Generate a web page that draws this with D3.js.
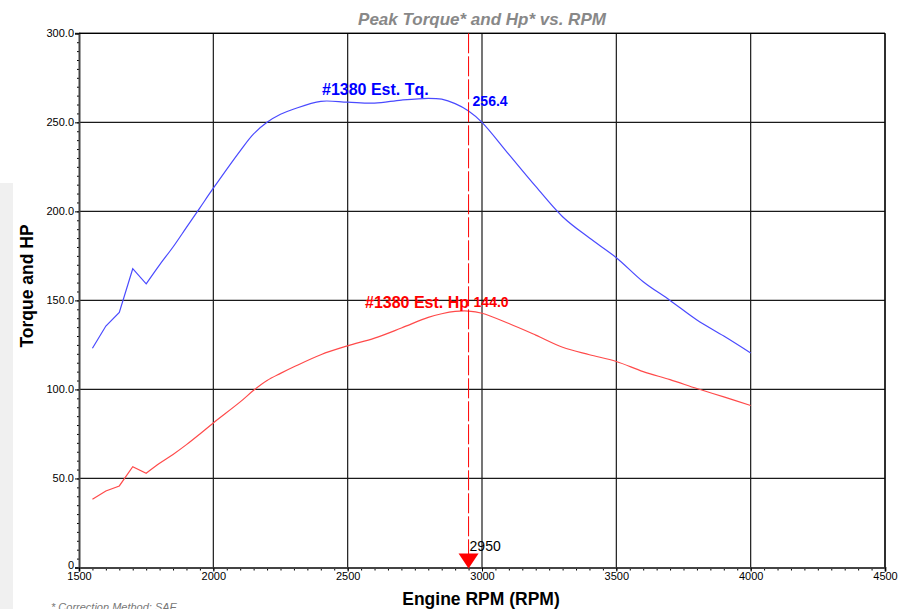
<!DOCTYPE html>
<html>
<head>
    <meta charset="utf-8">
    <script src="https://cdn.jsdelivr.net/npm/d3@7"></script>
    <style>
      body { margin: 0; background: #fff; }
      text { font-family: Arial, "Liberation Sans", sans-serif; }
    </style>
</head>
<body>
<script type="text/javascript">
"use strict";

// Dyno pull.
var rpm = [1550, 1600, 1650, 1700, 1750, 1800, 1850, 1900, 1950, 2000,
           2100, 2150, 2200, 2250, 2300, 2400, 2500, 2600, 2700, 2800, 2850,
           2900, 2950, 3000, 3100, 3200, 3300, 3400, 3500, 3600, 3700,
           3800, 3900, 4000];
var torque = [123.1, 135.6, 143.3, 167.8, 159.3, 170, 180, 191, 202, 213,
              234, 243.5, 250, 254.5, 257.5, 261.8, 261.3, 260.8, 262.5, 263.5, 263,
              260.5, 256.4, 250, 232, 214, 197, 185, 174, 160.5, 150,
              139, 130, 120.5];
var hp = [38.3, 43, 45.8, 56.6, 52.9, 58.5, 63.5, 69, 75, 81.2,
          93, 99.5, 105, 109, 112.7, 119.5, 124.5, 128.8, 134.5, 140.5, 142.5,
          143.8, 144.0, 142.8, 137, 130.5, 123.7, 119.5, 115.7, 110, 105.5,
          100.5, 95.8, 91];

var xTicks = [1500, 2000, 2500, 3000, 3500, 4000, 4500];
var yTicks = [0, 50, 100, 150, 200, 250, 300];
var peakRpm = 2950;
var peakTq = 256.4;
var peakHp = 144.0;

function draw() {
  var width = 899, height = 609;
  var pLeft = 79, pRight = 885, pTop = 33.3, pBottom = 567.5;

  var svg = d3.select("body").append("svg")
      .attr("width", width)
      .attr("height", height);

  // grey strip on the far left
  svg.append("rect")
      .attr("x", 0).attr("y", 183)
      .attr("width", 13).attr("height", height - 183)
      .attr("fill", "#f0f0f0");

  var x = d3.scaleLinear().domain([1500, 4500]).range([pLeft, pRight]);
  var y = d3.scaleLinear().domain([0, 300]).range([pBottom, pTop]);

  // grid
  svg.append("g").selectAll("line")
      .data(xTicks.slice(1))
      .enter().append("line")
      .attr("x1", d => x(d)).attr("x2", d => x(d))
      .attr("y1", pTop).attr("y2", pBottom)
      .attr("stroke", "#1a1a1a").attr("stroke-width", 1.2);
  svg.append("g").selectAll("line")
      .data(yTicks.slice(1))
      .enter().append("line")
      .attr("x1", pLeft).attr("x2", pRight)
      .attr("y1", d => y(d)).attr("y2", d => y(d))
      .attr("stroke", "#1a1a1a").attr("stroke-width", 1.2);

  // minor ticks
  svg.append("g")
      .attr("transform", "translate(" + pLeft + ",0)")
      .call(d3.axisLeft(y).tickValues(d3.range(0, 301, 5)).tickSize(2).tickFormat(""))
      .call(g => g.select(".domain").remove());
  svg.append("g")
      .attr("transform", "translate(0," + pBottom + ")")
      .call(d3.axisBottom(x).tickValues(d3.range(1500, 4501, 50)).tickSize(3).tickFormat(""))
      .call(g => g.select(".domain").remove());

  // major axes
  var yAxis = svg.append("g")
      .attr("transform", "translate(" + pLeft + ",0)")
      .call(d3.axisLeft(y).tickValues(yTicks).tickSize(4).tickPadding(1)
            .tickFormat(d => d === 0 ? "0" : d3.format(".1f")(d)));
  yAxis.select(".domain").attr("stroke", "#444").attr("stroke-width", 2);
  yAxis.selectAll("text").style("font-size", "11px").attr("fill", "#000")
      .attr("dy", d => d === 0 ? "0.1em" : "0.32em");

  var xAxis = svg.append("g")
      .attr("transform", "translate(0," + pBottom + ")")
      .call(d3.axisBottom(x).tickValues(xTicks).tickSize(4).tickPadding(1).tickFormat(d3.format("d")));
  xAxis.select(".domain").attr("stroke", "#444").attr("stroke-width", 2);
  xAxis.selectAll("text").style("font-size", "11px").attr("fill", "#000");

  // top and right border
  svg.append("line").attr("x1", pLeft).attr("x2", pRight).attr("y1", pTop).attr("y2", pTop)
      .attr("stroke", "#000").attr("stroke-width", 1.2);
  svg.append("line").attr("x1", pRight).attr("x2", pRight).attr("y1", pTop).attr("y2", pBottom)
      .attr("stroke", "#000").attr("stroke-width", 1.2);

  // curves: the low rpm part is jagged (straight segments), the rest smooth
  var straight = d3.line();
  var smooth = d3.line().curve(d3.curveCatmullRom.alpha(0.5));
  var split = rpm.indexOf(1750);
  function drawSeries(vals, color) {
    var pts = rpm.map((r, i) => [x(r), y(vals[i])]);
    svg.append("path")
        .attr("d", straight(pts.slice(0, split + 1)) + smooth(pts.slice(split)).replace(/^M/, "L"))
        .attr("fill", "none").attr("stroke", color).attr("stroke-width", 1.2);
  }
  drawSeries(torque, "#4a4aff");
  drawSeries(hp, "#ff4a4a");

  // peak marker
  svg.append("line")
      .attr("x1", x(peakRpm)).attr("x2", x(peakRpm))
      .attr("y1", pTop).attr("y2", pBottom - 10)
      .attr("stroke", "#ff0000").attr("stroke-width", 1)
      .attr("stroke-dasharray", "20,3");
  svg.append("path")
      .attr("d", "M" + (x(peakRpm) - 10) + "," + (pBottom - 14) + "L" + (x(peakRpm) + 10) + "," + (pBottom - 14) +
                 "L" + x(peakRpm) + "," + (pBottom + 1) + "Z")
      .attr("fill", "#ff0000");
  svg.append("text")
      .attr("x", x(peakRpm) + 1).attr("y", 551)
      .style("font-size", "14px").attr("fill", "#000")
      .text(peakRpm);

  // series labels
  svg.append("text")
      .attr("x", 322).attr("y", 95)
      .style("font-size", "16px").style("font-weight", "bold").attr("fill", "#0000ff")
      .text("#1380 Est. Tq.");
  svg.append("text")
      .attr("x", x(peakRpm) + 4).attr("y", 106)
      .style("font-size", "14px").style("font-weight", "bold").attr("fill", "#0000ff")
      .text(peakTq.toFixed(1));
  svg.append("text")
      .attr("x", 365).attr("y", 308)
      .style("font-size", "16px").style("font-weight", "bold").attr("fill", "#ff0000")
      .text("#1380 Est. Hp");
  svg.append("text")
      .attr("x", x(peakRpm) + 5).attr("y", 307)
      .style("font-size", "14px").style("font-weight", "bold").attr("fill", "#ff0000")
      .text(peakHp.toFixed(1));

  // titles
  svg.append("text")
      .attr("x", 482).attr("y", 25)
      .attr("text-anchor", "middle")
      .style("font-size", "17px").style("font-weight", "bold").style("font-style", "italic")
      .attr("fill", "#888")
      .text("Peak Torque* and Hp* vs. RPM");
  svg.append("text")
      .attr("transform", "translate(33,286) rotate(-90)")
      .attr("text-anchor", "middle")
      .style("font-size", "17.5px").style("font-weight", "bold").attr("fill", "#000")
      .text("Torque and HP");
  svg.append("text")
      .attr("x", 481).attr("y", 605)
      .attr("text-anchor", "middle")
      .style("font-size", "17.5px").style("font-weight", "bold").attr("fill", "#000")
      .text("Engine RPM (RPM)");
  svg.append("text")
      .attr("x", 51).attr("y", 611)
      .style("font-size", "11px").style("font-style", "italic").attr("fill", "#777")
      .text("* Correction Method: SAE");
}

draw();
</script>
</body>
</html>
